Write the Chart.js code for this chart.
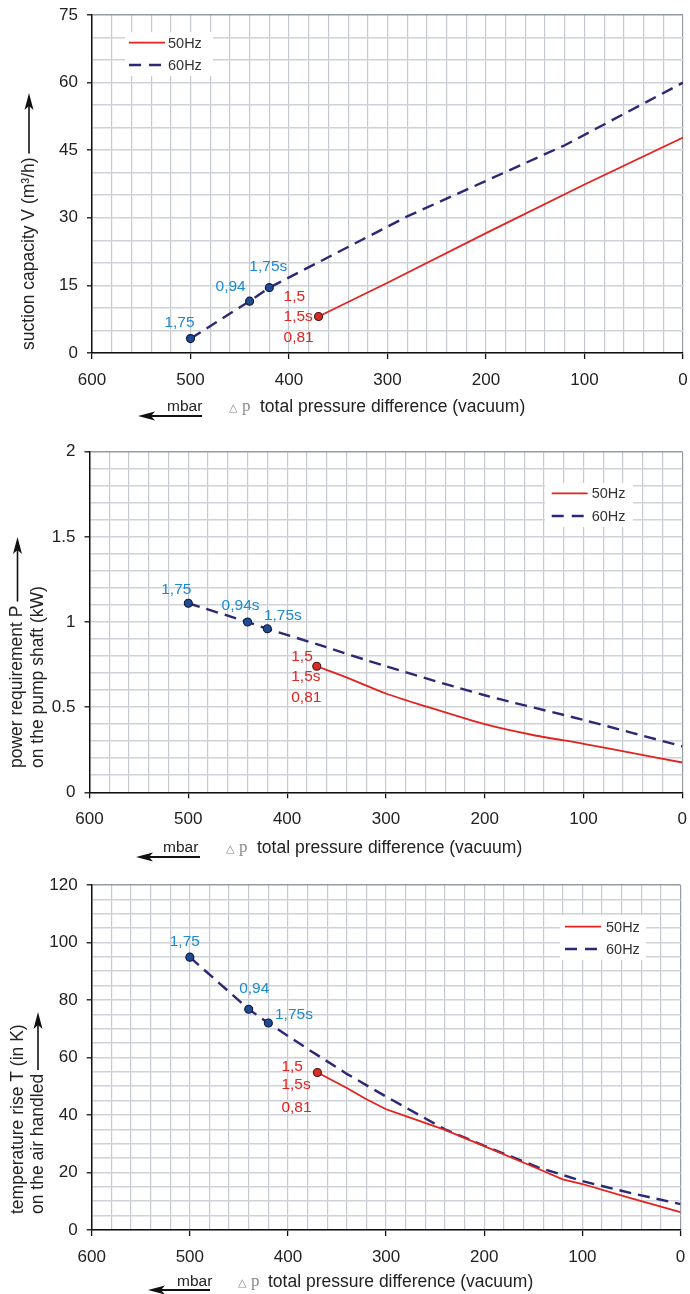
<!DOCTYPE html>
<html lang="en">
<head>
  <meta charset="UTF-8">
  <meta name="viewport" content="width=device-width, initial-scale=1.0">
  <title>Vacuum pump characteristic curves</title>
  <script src="https://cdn.jsdelivr.net/npm/chart.js@4.4.2/dist/chart.umd.min.js"></script>
  <style>
    body {
      margin: 0;
      background: #fff;
    }
    .box {
      position: absolute;
      left: 0;
      width: 690px;
    }
    #b1 { top: 0; height: 425px; }
    #b2 { top: 425px; height: 440px; }
    #b3 { top: 865px; height: 429px; }
  </style>
</head>
<body>
  <div class="box" id="b1"><canvas id="c1"></canvas></div>
  <div class="box" id="b2"><canvas id="c2"></canvas></div>
  <div class="box" id="b3"><canvas id="c3"></canvas></div>
  <script>
    // pressure difference (mbar) and values
    const dpQ60 = [500, 440, 420, 280, 200, 120, 0];
    const q60   = [3.2, 11.5, 14.5, 30.3, 38.2, 46.1, 60.0];
    const dpQ50 = [370, 300, 200, 100, 0];
    const q50   = [8.1, 15.6, 26.6, 37.4, 47.8];

    const dpP60 = [500, 440, 420, 370, 300, 200, 100, 0];
    const p60   = [1.11, 1.0, 0.96, 0.87, 0.74, 0.57, 0.425, 0.27];
    const dpP50 = [370, 340, 300, 260, 200, 150, 100, 50, 0];
    const p50   = [0.74, 0.675, 0.58, 0.505, 0.40, 0.335, 0.285, 0.23, 0.175];

    const dpT60 = [500, 440, 420, 380, 340, 300, 240, 200, 145, 100, 50, 0];
    const t60   = [94.9, 76.8, 72.0, 63.0, 54.3, 46.4, 35.0, 29.3, 21.8, 17.0, 12.8, 9.0];
    const dpT50 = [370, 340, 320, 300, 280, 240, 200, 150, 120, 100, 50, 0];
    const t50   = [54.8, 49.4, 45.5, 42.0, 39.6, 34.8, 29.2, 22.0, 17.6, 16.0, 11.0, 6.2];

    // tick labels
    const xLabels = [600, 500, 400, 300, 200, 100, 0];
    const qLabels = [0, 15, 30, 45, 60, 75];
    const pLabels = [0, 0.5, 1, 1.5, 2];
    const tLabels = [0, 20, 40, 60, 80, 100, 120];

    // operating point tags (first points of 60Hz, first point of 50Hz)
    const tagsQ60 = ['1,75', '0,94', '1,75s'];
    const tagsP60 = ['1,75', '0,94s', '1,75s'];
    const tagsT60 = ['1,75', '0,94', '1,75s'];
    const tags50  = ['1,5', '1,5s', '0,81'];

    const FONT = '"Liberation Sans", Arial, sans-serif';
    const RED = '#e2231f';
    const NAVY = '#2b2876';
    const TAG_BLUE = '#1b8ad3';
    const TEXT = '#222';

    function upArrow(c, x, y0, tip) {
      c.strokeStyle = '#111';
      c.lineWidth = 1.6;
      c.beginPath(); c.moveTo(x, y0); c.lineTo(x, tip + 12); c.stroke();
      c.fillStyle = '#111';
      c.beginPath();
      c.moveTo(x, tip); c.lineTo(x + 4.5, tip + 17); c.lineTo(x, tip + 13); c.lineTo(x - 4.5, tip + 17);
      c.closePath(); c.fill();
    }

    function decor(o) {
      return {
        id: 'decor',
        beforeDatasetsDraw(chart) {
          const c = chart.ctx, L = o.legend;
          c.save();
          c.fillStyle = '#fff';
          c.fillRect(L.x, L.y, L.w, L.h);
          c.lineCap = 'butt';
          c.strokeStyle = RED; c.lineWidth = 1.8;
          c.beginPath(); c.moveTo(L.lx, L.y1); c.lineTo(L.lx + 36, L.y1); c.stroke();
          c.strokeStyle = NAVY; c.lineWidth = 2.4; c.setLineDash([12, 8]);
          c.beginPath(); c.moveTo(L.lx, L.y2); c.lineTo(L.lx + 33, L.y2); c.stroke();
          c.setLineDash([]);
          c.fillStyle = '#333';
          c.font = '14.5px ' + FONT;
          c.textAlign = 'left'; c.textBaseline = 'middle';
          c.fillText('50Hz', L.tx, L.y1 + 1);
          c.fillText('60Hz', L.tx, L.y2 + 1);
          c.restore();
        },
        afterDatasetsDraw(chart) {
          const c = chart.ctx;
          const m50 = chart.getDatasetMeta(0).data, m60 = chart.getDatasetMeta(1).data;
          c.save();
          // point tags
          c.font = '15.5px ' + FONT;
          c.textBaseline = 'middle';
          c.textAlign = 'center';
          c.fillStyle = TAG_BLUE;
          o.tags60.forEach((t, i) => c.fillText(t, m60[i].x + o.off60[i][0], m60[i].y + o.off60[i][1]));
          c.textAlign = 'left';
          c.fillStyle = RED;
          tags50.forEach((t, i) => c.fillText(t, m50[0].x + o.red.dx, m50[0].y + o.red.dy[i]));

          // y axis title with arrow
          const Y = o.yTitle;
          c.fillStyle = TEXT;
          c.font = '17.5px ' + FONT;
          Y.lines.forEach(l => {
            c.save(); c.translate(l.x, l.y); c.rotate(-Math.PI / 2);
            c.fillText(l.text, 0, 0);
            c.restore();
          });
          const al = Y.lines[Y.arrowLine];
          upArrow(c, al.x, al.y - c.measureText(al.text).width - 4, Y.tip);

          // x axis title
          const X = o.xTitle;
          c.fillStyle = TEXT;
          c.font = '15.5px ' + FONT;
          c.fillText('mbar', X.mx, X.y);
          c.strokeStyle = '#111'; c.lineWidth = 2;
          c.beginPath(); c.moveTo(X.a0 + 12, X.ay); c.lineTo(X.a1, X.ay); c.stroke();
          c.fillStyle = '#111';
          c.beginPath();
          c.moveTo(X.a0, X.ay); c.lineTo(X.a0 + 17, X.ay - 4.5); c.lineTo(X.a0 + 13, X.ay); c.lineTo(X.a0 + 17, X.ay + 4.5);
          c.closePath(); c.fill();
          c.fillStyle = '#8a8a8a';
          c.font = '11px "DejaVu Sans", sans-serif';
          c.fillText('△', X.dx, X.y + 1);
          c.font = '17px "Liberation Serif", serif';
          c.fillText('p', X.dx + 13, X.y);
          c.fillStyle = TEXT;
          c.font = '17.5px ' + FONT;
          c.fillText('total pressure difference (vacuum)', X.tx, X.y);
          c.restore();
        }
      };
    }

    function makeChart(id, o) {
      const near = (list, v) => list.some(t => Math.abs(t - v) < 1e-6);
      const lim = (s, w) => {
        s.paddingTop = s.paddingBottom = s.paddingLeft = s.paddingRight = 0;
        if (w.width !== undefined) s.width = w.width;
        if (w.height !== undefined) s.height = w.height;
      };
      return new Chart(document.getElementById(id), {
        type: 'line',
        data: {
          datasets: [
            {
              label: '50Hz',
              data: o.dp50.map((x, i) => ({ x: x, y: o.v50[i] })),
              borderColor: RED,
              borderWidth: 1.8,
              fill: false,
              tension: o.tension,
              pointRadius: ctx => ctx.dataIndex === 0 ? 4 : 0,
              pointBackgroundColor: '#d62d27',
              pointBorderColor: '#4d1410',
              pointBorderWidth: 1.1
            },
            {
              label: '60Hz',
              data: o.dp60.map((x, i) => ({ x: x, y: o.v60[i] })),
              borderColor: NAVY,
              borderWidth: 2.4,
              borderDash: [12, 7],
              fill: false,
              tension: o.tension,
              pointRadius: ctx => ctx.dataIndex < 3 ? 4 : 0,
              pointBackgroundColor: '#1e4b92',
              pointBorderColor: '#12173a',
              pointBorderWidth: 1.1
            }
          ]
        },
        options: {
          responsive: true,
          maintainAspectRatio: false,
          animation: false,
          layout: { padding: { left: 0, top: o.area.top, right: o.area.right, bottom: 0 } },
          plugins: { legend: { display: false }, tooltip: { enabled: false } },
          scales: {
            x: {
              type: 'linear',
              reverse: true,
              min: 0,
              max: 600,
              afterFit: s => lim(s, { height: o.area.xh }),
              ticks: {
                stepSize: 20,
                autoSkip: false,
                maxRotation: 0,
                minRotation: 0,
                padding: 11,
                color: TEXT,
                font: { family: FONT, size: 17 },
                callback: v => near(xLabels, v) ? String(v) : ''
              },
              grid: {
                color: ctx => ctx.tick && ctx.tick.value === 0 ? '#959ba4' : '#c5c9d0',
                lineWidth: 1.2,
                tickLength: 6,
                tickWidth: 1.3,
                tickColor: ctx => ctx.tick && near(xLabels, ctx.tick.value) ? '#111' : 'rgba(0,0,0,0)'
              },
              border: { color: '#111', width: 1.5 }
            },
            y: {
              type: 'linear',
              min: 0,
              max: o.yMax,
              afterFit: s => lim(s, { width: o.area.left }),
              ticks: {
                stepSize: o.yStep,
                autoSkip: false,
                padding: 9,
                color: TEXT,
                font: { family: FONT, size: 17 },
                callback: v => near(o.yLabels, v) ? String(Math.round(v * 10) / 10) : ''
              },
              grid: {
                color: ctx => ctx.tick && Math.abs(ctx.tick.value - o.yMax) < 1e-6 ? '#959ba4' : '#cfd2d9',
                lineWidth: 1.6,
                tickLength: 5,
                tickWidth: 1.3,
                tickColor: ctx => ctx.tick && near(o.yLabels, ctx.tick.value) ? '#111' : 'rgba(0,0,0,0)'
              },
              border: { color: '#111', width: 1.5 }
            }
          }
        },
        plugins: [decor(o)]
      });
    }

    makeChart('c1', {
      dp50: dpQ50, v50: q50, dp60: dpQ60, v60: q60,
      yMax: 75, yStep: 5, yLabels: qLabels, tension: 0,
      area: { left: 92, top: 15, right: 7, xh: 72 },
      legend: { x: 125, y: 32, w: 88, h: 44, lx: 129, y1: 42.7, y2: 65, tx: 168 },
      tags60: tagsQ60, off60: [[-11, -16], [-19, -14], [-1, -21]],
      red: { dx: -35, dy: [-19.5, 0, 21.6] },
      yTitle: { lines: [{ text: 'suction capacity V (m³/h)', x: 29, y: 350 }], arrowLine: 0, tip: 93 },
      xTitle: { mx: 167, y: 407, ay: 416, a0: 138, a1: 202, dx: 229, tx: 260 }
    });

    makeChart('c2', {
      dp50: dpP50, v50: p50, dp60: dpP60, v60: p60,
      yMax: 2, yStep: 0.1, yLabels: pLabels, tension: 0.25,
      area: { left: 89.5, top: 26.7, right: 7.7, xh: 72.7 },
      legend: { x: 545, y: 58, w: 88, h: 44, lx: 551.7, y1: 68.3, y2: 91, tx: 591.7 },
      tags60: tagsP60, off60: [[-12, -14], [-7, -16.5], [15.5, -13]],
      red: { dx: -25.5, dy: [-10, 10, 31.7] },
      yTitle: {
        lines: [
          { text: 'power requirement P', x: 17.5, y: 343 },
          { text: 'on the pump shaft (kW)', x: 38, y: 343 }
        ],
        arrowLine: 0, tip: 112
      },
      xTitle: { mx: 163, y: 423, ay: 432, a0: 136, a1: 200, dx: 226, tx: 257 }
    });

    makeChart('c3', {
      dp50: dpT50, v50: t50, dp60: dpT60, v60: t60,
      yMax: 120, yStep: 5, yLabels: tLabels, tension: 0,
      area: { left: 91.7, top: 20, right: 9.5, xh: 64 },
      legend: { x: 560, y: 50, w: 86, h: 45, lx: 565, y1: 61.7, y2: 84, tx: 606 },
      tags60: tagsT60, off60: [[-5, -15.6], [5.5, -20.3], [25.6, -8]],
      red: { dx: -36, dy: [-5.6, 12.7, 35] },
      yTitle: {
        lines: [
          { text: 'temperature rise T (in K)', x: 18.5, y: 349 },
          { text: 'on the air handled', x: 38, y: 349 }
        ],
        arrowLine: 1, tip: 147
      },
      xTitle: { mx: 177, y: 416.7, ay: 425, a0: 148, a1: 210, dx: 238, tx: 268 }
    });
  </script>
</body>
</html>
